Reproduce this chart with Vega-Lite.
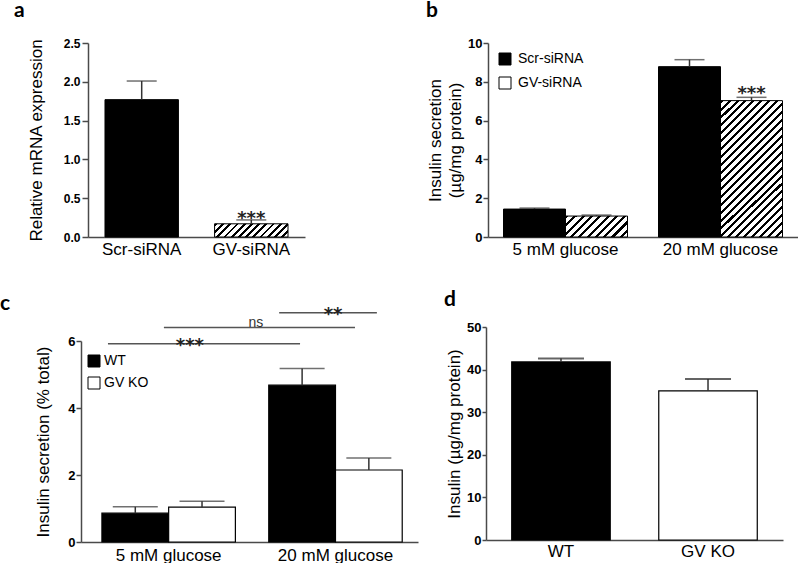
{
"$schema": "https://vega.github.io/schema/vega-lite/v6.json",
"background": "white",
"padding": {"left": 0, "top": 0, "right": 0, "bottom": 0},
"config": {
  "view": {"stroke": null},
  "font": "Liberation Sans",
  "axis": {"domainColor": "#4a4a4a", "domainWidth": 1.5, "tickColor": "#4a4a4a", "tickWidth": 1.5, "labelColor": "black", "titleColor": "black", "grid": false, "titleFont": "Liberation Sans", "titleFontSize": 17, "titleFontWeight": "normal", "labelFont": "Liberation Sans", "labelOverlap": false},
  "axisY": {"labelFontWeight": "bold", "labelFontSize": 13, "tickSize": 5, "labelPadding": 1, "labelOverlap": false},
  "axisX": {"ticks": false, "labelFontSize": 17, "labelPadding": 4, "labelAngle": 0},
  "title": {"font": "Lato", "fontSize": 21, "fontWeight": "bold", "color": "black", "anchor": "start", "frame": "group"},
  "legend": {"labelFont": "Liberation Sans", "labelFontSize": 14, "labelColor": "black"}
},
"resolve": {"scale": {"fill": "independent", "xOffset": "independent"}, "legend": {"fill": "independent"}},
"hconcat": [
 {"vconcat": [
  {
   "width": 224, "height": 194,
   "title": {"text": "a", "dx": -67, "dy": -12},
   "data": {"values": [
     {"group": "Scr-siRNA", "value": 1.77, "upper": 2.01, "sig": ""},
     {"group": "GV-siRNA", "value": 0.17, "upper": 0.22, "sig": "***"}
   ]},
   "encoding": {
     "x": {"field": "group", "type": "nominal", "sort": null, "title": null,
           "scale": {"range": [7, 224], "paddingInner": 0.33, "paddingOuter": 0.155}}
   },
   "layer": [
     {"mark": {"type": "bar", "stroke": "black", "strokeWidth": 1},
      "encoding": {
        "y": {"field": "value", "type": "quantitative", "title": "Relative mRNA expression", "scale": {"domain": [0, 2.5], "nice": false},
              "axis": {"values": [0, 0.5, 1, 1.5, 2, 2.5], "tickCount": 6, "format": ".1f", "offset": -7, "labelFont": "Liberation Sans Narrow, Liberation Sans", "labelFontSize": 12, "tickSize": 6, "labelPadding": 2, "titlePadding": 18, "labelOverlap": false}},
        "fill": {"condition": {"test": "datum.group === 'GV-siRNA'", "value": {"gradient": "linear", "x1": 0, "y1": 0, "x2": 1.1427, "y2": 0.2052, "stops": [
{"offset":0,"color":"#000"},{"offset":0.0317,"color":"#000"},{"offset":0.0317,"color":"#fff"},{"offset":0.0833,"color":"#fff"},
{"offset":0.0833,"color":"#000"},{"offset":0.115,"color":"#000"},{"offset":0.115,"color":"#fff"},{"offset":0.1667,"color":"#fff"},
{"offset":0.1667,"color":"#000"},{"offset":0.1983,"color":"#000"},{"offset":0.1983,"color":"#fff"},{"offset":0.25,"color":"#fff"},
{"offset":0.25,"color":"#000"},{"offset":0.2817,"color":"#000"},{"offset":0.2817,"color":"#fff"},{"offset":0.3333,"color":"#fff"},
{"offset":0.3333,"color":"#000"},{"offset":0.365,"color":"#000"},{"offset":0.365,"color":"#fff"},{"offset":0.4167,"color":"#fff"},
{"offset":0.4167,"color":"#000"},{"offset":0.4483,"color":"#000"},{"offset":0.4483,"color":"#fff"},{"offset":0.5,"color":"#fff"},
{"offset":0.5,"color":"#000"},{"offset":0.5317,"color":"#000"},{"offset":0.5317,"color":"#fff"},{"offset":0.5833,"color":"#fff"},
{"offset":0.5833,"color":"#000"},{"offset":0.615,"color":"#000"},{"offset":0.615,"color":"#fff"},{"offset":0.6667,"color":"#fff"},
{"offset":0.6667,"color":"#000"},{"offset":0.6983,"color":"#000"},{"offset":0.6983,"color":"#fff"},{"offset":0.75,"color":"#fff"},
{"offset":0.75,"color":"#000"},{"offset":0.7817,"color":"#000"},{"offset":0.7817,"color":"#fff"},{"offset":0.8333,"color":"#fff"},
{"offset":0.8333,"color":"#000"},{"offset":0.865,"color":"#000"},{"offset":0.865,"color":"#fff"},{"offset":0.9167,"color":"#fff"},
{"offset":0.9167,"color":"#000"},{"offset":0.9483,"color":"#000"},{"offset":0.9483,"color":"#fff"},{"offset":1,"color":"#fff"}]}}, "value": "black"}
      }},
     {"mark": {"type": "rule", "color": "#333", "strokeWidth": 1.5},
      "encoding": {"y": {"field": "value", "type": "quantitative", "title": "Relative mRNA expression",
              "axis": {"values": [0, 0.5, 1, 1.5, 2, 2.5], "tickCount": 6, "format": ".1f", "offset": -7, "labelFont": "Liberation Sans Narrow, Liberation Sans", "labelFontSize": 12, "tickSize": 6, "labelPadding": 2, "titlePadding": 18, "labelOverlap": false}},
        "y2": {"field": "upper"}}},
     {"mark": {"type": "tick", "color": "#333", "thickness": 1.5, "size": 30},
      "encoding": {"y": {"field": "upper", "type": "quantitative", "title": "Relative mRNA expression",
              "axis": {"values": [0, 0.5, 1, 1.5, 2, 2.5], "tickCount": 6, "format": ".1f", "offset": -7, "labelFont": "Liberation Sans Narrow, Liberation Sans", "labelFontSize": 12, "tickSize": 6, "labelPadding": 2, "titlePadding": 18, "labelOverlap": false}}}},
     {"mark": {"type": "text", "font": "DejaVu Sans", "fontWeight": "bold", "fontSize": 18, "dy": 4, "baseline": "alphabetic", "color": "#222"},
      "encoding": {"y": {"field": "upper", "type": "quantitative", "title": "Relative mRNA expression",
              "axis": {"values": [0, 0.5, 1, 1.5, 2, 2.5], "tickCount": 6, "format": ".1f", "offset": -7, "labelFont": "Liberation Sans Narrow, Liberation Sans", "labelFontSize": 12, "tickSize": 6, "labelPadding": 2, "titlePadding": 18, "labelOverlap": false}},
        "text": {"field": "sig"}}}
   ]
  },
  {
   "width": 337, "height": 201,
   "title": {"text": "c", "dx": -81, "dy": 12},
   "layer": [
    {
     "data": {"values": [
       {"glucose": "5 mM glucose", "genotype": "WT", "value": 0.86, "upper": 1.05},
       {"glucose": "5 mM glucose", "genotype": "GV KO", "value": 1.04, "upper": 1.22},
       {"glucose": "20 mM glucose", "genotype": "WT", "value": 4.68, "upper": 5.18},
       {"glucose": "20 mM glucose", "genotype": "GV KO", "value": 2.15, "upper": 2.51}
     ]},
     "encoding": {
       "x": {"field": "glucose", "type": "nominal", "sort": null, "title": null,
             "scale": {"paddingInner": 0.2, "paddingOuter": 0.11, "align": 0.57}, "axis": {"labelPadding": 5}},
       "xOffset": {"field": "genotype", "type": "nominal", "sort": ["WT", "GV KO"]}
     },
     "layer": [
       {"mark": {"type": "bar", "stroke": "black", "strokeWidth": 1.2},
        "encoding": {
          "y": {"field": "value", "type": "quantitative", "title": "Insulin secretion (% total)", "scale": {"domain": [0, 6], "nice": false},
                "axis": {"values": [0, 2, 4, 6], "titlePadding": 15, "labelOverlap": false}},
          "fill": {"field": "genotype", "type": "nominal", "sort": ["WT", "GV KO"],
                   "scale": {"domain": ["WT", "GV KO"], "range": ["black", "white"]},
                   "legend": {"title": null, "orient": "none", "legendX": 6, "legendY": 13, "symbolType": "square", "symbolSize": 144, "symbolStrokeColor": "black", "symbolStrokeWidth": 1, "labelOffset": 3, "rowPadding": 6,
                              "encode": {"symbols": {"update": {"stroke": {"value": "black"}, "strokeWidth": {"value": 1}}}}}}
        }},
       {"mark": {"type": "rule", "color": "#333", "strokeWidth": 1.5},
        "encoding": {"y": {"field": "value", "type": "quantitative", "title": "Insulin secretion (% total)", "axis": {"values": [0, 2, 4, 6], "titlePadding": 15, "labelOverlap": false}}, "y2": {"field": "upper"}}},
       {"mark": {"type": "tick", "color": "#333", "thickness": 1.5, "size": 45},
        "encoding": {"y": {"field": "upper", "type": "quantitative", "title": "Insulin secretion (% total)", "axis": {"values": [0, 2, 4, 6], "titlePadding": 15, "labelOverlap": false}}}}
     ]
    },
    {
     "data": {"values": [
       {"label": "***", "x1": 0.080, "x2": 0.650, "lx": 0.323, "value": 5.92},
       {"label": "ns", "x1": 0.246, "x2": 0.813, "lx": 0.519, "value": 6.40},
       {"label": "**", "x1": 0.588, "x2": 0.878, "lx": 0.748, "value": 6.84}
     ]},
     "layer": [
       {"mark": {"type": "rule", "color": "#555", "strokeWidth": 1.5},
        "encoding": {
          "x": {"field": "x1", "type": "quantitative", "scale": {"domain": [0, 1], "nice": false}, "axis": null},
          "x2": {"field": "x2"},
          "y": {"field": "value", "type": "quantitative", "title": "Insulin secretion (% total)", "axis": {"values": [0, 2, 4, 6], "titlePadding": 15, "labelOverlap": false}}}},
       {"transform": [{"filter": "datum.label !== 'ns'"}],
        "mark": {"type": "text", "font": "DejaVu Sans", "fontWeight": "bold", "fontSize": 18, "dy": 7, "baseline": "alphabetic", "color": "#222"},
        "encoding": {
          "x": {"field": "lx", "type": "quantitative", "scale": {"domain": [0, 1], "nice": false}, "axis": null},
          "y": {"field": "value", "type": "quantitative", "title": "Insulin secretion (% total)", "axis": {"values": [0, 2, 4, 6], "titlePadding": 15, "labelOverlap": false}},
          "text": {"field": "label"}}},
       {"transform": [{"filter": "datum.label === 'ns'"}],
        "mark": {"type": "text", "fontSize": 14, "dy": -1, "baseline": "alphabetic", "color": "#333"},
        "encoding": {
          "x": {"field": "lx", "type": "quantitative", "scale": {"domain": [0, 1], "nice": false}, "axis": null},
          "y": {"field": "value", "type": "quantitative", "title": "Insulin secretion (% total)", "axis": {"values": [0, 2, 4, 6], "titlePadding": 15, "labelOverlap": false}},
          "text": {"field": "label"}}}
     ]
    }
   ],
   "resolve": {"scale": {"x": "independent"}}
  }
 ], "bounds": "flush", "spacing": 104,
 "resolve": {"scale": {"fill": "independent", "xOffset": "independent"}, "legend": {"fill": "independent"}}},
 {"vconcat": [
  {
   "width": 312, "height": 194,
   "title": {"text": "b", "dx": -60, "dy": -12},
   "data": {"values": [
     {"glucose": "5 mM glucose", "siRNA": "Scr-siRNA", "value": 1.44, "upper": 1.49, "sig": ""},
     {"glucose": "5 mM glucose", "siRNA": "GV-siRNA", "value": 1.08, "upper": 1.13, "sig": ""},
     {"glucose": "20 mM glucose", "siRNA": "Scr-siRNA", "value": 8.78, "upper": 9.14, "sig": ""},
     {"glucose": "20 mM glucose", "siRNA": "GV-siRNA", "value": 7.03, "upper": 7.2, "sig": "***"}
   ]},
   "encoding": {
     "x": {"field": "glucose", "type": "nominal", "sort": null, "title": null,
           "scale": {"range": [2, 312], "paddingInner": 0.2, "paddingOuter": 0.1}},
     "xOffset": {"field": "siRNA", "type": "nominal", "sort": ["Scr-siRNA", "GV-siRNA"]}
   },
   "layer": [
     {"mark": {"type": "bar", "stroke": "black", "strokeWidth": 1},
      "encoding": {
        "y": {"field": "value", "type": "quantitative", "title": ["Insulin secretion", "(µg/mg protein)"], "scale": {"domain": [0, 10], "nice": false},
              "axis": {"values": [0, 2, 4, 6, 8, 10], "tickCount": 6, "offset": -2, "titlePadding": 3, "titleLineHeight": 20, "labelOverlap": false}},
        "fill": {"field": "siRNA", "type": "nominal", "sort": ["Scr-siRNA", "GV-siRNA"],
                 "scale": {"domain": ["Scr-siRNA", "GV-siRNA"], "range": ["black", "white"]},
                 "condition": [
                   {"test": "datum.siRNA === 'GV-siRNA' && datum.glucose === '5 mM glucose'", "value": {"gradient": "linear", "x1": 0, "y1": 0, "x2": 1.201, "y2": 0.4068, "stops": [
{"offset":0,"color":"#000"},{"offset":0.038,"color":"#000"},{"offset":0.038,"color":"#fff"},{"offset":0.1,"color":"#fff"},
{"offset":0.1,"color":"#000"},{"offset":0.138,"color":"#000"},{"offset":0.138,"color":"#fff"},{"offset":0.2,"color":"#fff"},
{"offset":0.2,"color":"#000"},{"offset":0.238,"color":"#000"},{"offset":0.238,"color":"#fff"},{"offset":0.3,"color":"#fff"},
{"offset":0.3,"color":"#000"},{"offset":0.338,"color":"#000"},{"offset":0.338,"color":"#fff"},{"offset":0.4,"color":"#fff"},
{"offset":0.4,"color":"#000"},{"offset":0.438,"color":"#000"},{"offset":0.438,"color":"#fff"},{"offset":0.5,"color":"#fff"},
{"offset":0.5,"color":"#000"},{"offset":0.538,"color":"#000"},{"offset":0.538,"color":"#fff"},{"offset":0.6,"color":"#fff"},
{"offset":0.6,"color":"#000"},{"offset":0.638,"color":"#000"},{"offset":0.638,"color":"#fff"},{"offset":0.7,"color":"#fff"},
{"offset":0.7,"color":"#000"},{"offset":0.738,"color":"#000"},{"offset":0.738,"color":"#fff"},{"offset":0.8,"color":"#fff"},
{"offset":0.8,"color":"#000"},{"offset":0.838,"color":"#000"},{"offset":0.838,"color":"#fff"},{"offset":0.9,"color":"#fff"},
{"offset":0.9,"color":"#000"},{"offset":0.938,"color":"#000"},{"offset":0.938,"color":"#fff"},{"offset":1,"color":"#fff"}]}},
                   {"test": "datum.siRNA === 'GV-siRNA' && datum.glucose === '20 mM glucose'", "value": {"gradient": "linear", "x1": 0, "y1": 0, "x2": 0.5464, "y2": 1.2056, "stops": [
{"offset":0,"color":"#000"},{"offset":0.0152,"color":"#000"},{"offset":0.0152,"color":"#fff"},{"offset":0.04,"color":"#fff"},
{"offset":0.04,"color":"#000"},{"offset":0.0552,"color":"#000"},{"offset":0.0552,"color":"#fff"},{"offset":0.08,"color":"#fff"},
{"offset":0.08,"color":"#000"},{"offset":0.0952,"color":"#000"},{"offset":0.0952,"color":"#fff"},{"offset":0.12,"color":"#fff"},
{"offset":0.12,"color":"#000"},{"offset":0.1352,"color":"#000"},{"offset":0.1352,"color":"#fff"},{"offset":0.16,"color":"#fff"},
{"offset":0.16,"color":"#000"},{"offset":0.1752,"color":"#000"},{"offset":0.1752,"color":"#fff"},{"offset":0.2,"color":"#fff"},
{"offset":0.2,"color":"#000"},{"offset":0.2152,"color":"#000"},{"offset":0.2152,"color":"#fff"},{"offset":0.24,"color":"#fff"},
{"offset":0.24,"color":"#000"},{"offset":0.2552,"color":"#000"},{"offset":0.2552,"color":"#fff"},{"offset":0.28,"color":"#fff"},
{"offset":0.28,"color":"#000"},{"offset":0.2952,"color":"#000"},{"offset":0.2952,"color":"#fff"},{"offset":0.32,"color":"#fff"},
{"offset":0.32,"color":"#000"},{"offset":0.3352,"color":"#000"},{"offset":0.3352,"color":"#fff"},{"offset":0.36,"color":"#fff"},
{"offset":0.36,"color":"#000"},{"offset":0.3752,"color":"#000"},{"offset":0.3752,"color":"#fff"},{"offset":0.4,"color":"#fff"},
{"offset":0.4,"color":"#000"},{"offset":0.4152,"color":"#000"},{"offset":0.4152,"color":"#fff"},{"offset":0.44,"color":"#fff"},
{"offset":0.44,"color":"#000"},{"offset":0.4552,"color":"#000"},{"offset":0.4552,"color":"#fff"},{"offset":0.48,"color":"#fff"},
{"offset":0.48,"color":"#000"},{"offset":0.4952,"color":"#000"},{"offset":0.4952,"color":"#fff"},{"offset":0.52,"color":"#fff"},
{"offset":0.52,"color":"#000"},{"offset":0.5352,"color":"#000"},{"offset":0.5352,"color":"#fff"},{"offset":0.56,"color":"#fff"},
{"offset":0.56,"color":"#000"},{"offset":0.5752,"color":"#000"},{"offset":0.5752,"color":"#fff"},{"offset":0.6,"color":"#fff"},
{"offset":0.6,"color":"#000"},{"offset":0.6152,"color":"#000"},{"offset":0.6152,"color":"#fff"},{"offset":0.64,"color":"#fff"},
{"offset":0.64,"color":"#000"},{"offset":0.6552,"color":"#000"},{"offset":0.6552,"color":"#fff"},{"offset":0.68,"color":"#fff"},
{"offset":0.68,"color":"#000"},{"offset":0.6952,"color":"#000"},{"offset":0.6952,"color":"#fff"},{"offset":0.72,"color":"#fff"},
{"offset":0.72,"color":"#000"},{"offset":0.7352,"color":"#000"},{"offset":0.7352,"color":"#fff"},{"offset":0.76,"color":"#fff"},
{"offset":0.76,"color":"#000"},{"offset":0.7752,"color":"#000"},{"offset":0.7752,"color":"#fff"},{"offset":0.8,"color":"#fff"},
{"offset":0.8,"color":"#000"},{"offset":0.8152,"color":"#000"},{"offset":0.8152,"color":"#fff"},{"offset":0.84,"color":"#fff"},
{"offset":0.84,"color":"#000"},{"offset":0.8552,"color":"#000"},{"offset":0.8552,"color":"#fff"},{"offset":0.88,"color":"#fff"},
{"offset":0.88,"color":"#000"},{"offset":0.8952,"color":"#000"},{"offset":0.8952,"color":"#fff"},{"offset":0.92,"color":"#fff"},
{"offset":0.92,"color":"#000"},{"offset":0.9352,"color":"#000"},{"offset":0.9352,"color":"#fff"},{"offset":0.96,"color":"#fff"},
{"offset":0.96,"color":"#000"},{"offset":0.9752,"color":"#000"},{"offset":0.9752,"color":"#fff"},{"offset":1,"color":"#fff"}]}}
                 ],
                 "legend": {"title": null, "orient": "none", "legendX": 12, "legendY": 9, "symbolType": "square", "symbolSize": 144, "symbolStrokeColor": "black", "symbolStrokeWidth": 1, "labelOffset": 6, "rowPadding": 8,
                            "encode": {"symbols": {"update": {"stroke": {"value": "black"}, "strokeWidth": {"value": 1}, "fill": [
                              {"test": "datum.value === 'GV-siRNA'", "value": {"gradient": "linear", "x1": 0, "y1": 0, "x2": 1, "y2": 1, "stops": [
{"offset":0,"color":"#fff"},{"offset":0.104,"color":"#fff"},{"offset":0.104,"color":"#000"},{"offset":0.229,"color":"#000"},{"offset":0.229,"color":"#fff"},
{"offset":0.437,"color":"#fff"},{"offset":0.437,"color":"#000"},{"offset":0.563,"color":"#000"},{"offset":0.563,"color":"#fff"},
{"offset":0.771,"color":"#fff"},{"offset":0.771,"color":"#000"},{"offset":0.896,"color":"#000"},{"offset":0.896,"color":"#fff"},{"offset":1,"color":"#fff"}]}},
                              {"value": "black"}]}}}}}
      }},
     {"mark": {"type": "rule", "color": "#333", "strokeWidth": 1.5},
      "encoding": {"y": {"field": "value", "type": "quantitative", "title": ["Insulin secretion", "(µg/mg protein)"],
              "axis": {"values": [0, 2, 4, 6, 8, 10], "tickCount": 6, "offset": -2, "titlePadding": 3, "titleLineHeight": 20, "labelOverlap": false}},
        "y2": {"field": "upper"}}},
     {"mark": {"type": "tick", "color": "#333", "thickness": 1.5, "size": 30},
      "encoding": {"y": {"field": "upper", "type": "quantitative", "title": ["Insulin secretion", "(µg/mg protein)"],
              "axis": {"values": [0, 2, 4, 6, 8, 10], "tickCount": 6, "offset": -2, "titlePadding": 3, "titleLineHeight": 20, "labelOverlap": false}}}},
     {"mark": {"type": "text", "font": "DejaVu Sans", "fontWeight": "bold", "fontSize": 18, "dy": 2, "baseline": "alphabetic", "color": "#222"},
      "encoding": {"y": {"field": "upper", "type": "quantitative", "title": ["Insulin secretion", "(µg/mg protein)"],
              "axis": {"values": [0, 2, 4, 6, 8, 10], "tickCount": 6, "offset": -2, "titlePadding": 3, "titleLineHeight": 20, "labelOverlap": false}},
        "text": {"field": "sig"}}}
   ]
  },
  {
   "width": 297, "height": 213,
   "title": {"text": "d", "dx": -42, "dy": -7},
   "data": {"values": [
     {"genotype": "WT", "value": 41.8, "upper": 42.6},
     {"genotype": "GV KO", "value": 35.0, "upper": 37.8}
   ]},
   "encoding": {
     "x": {"field": "genotype", "type": "nominal", "sort": null, "title": null,
           "scale": {"paddingInner": 0.33, "paddingOuter": 0.175}, "axis": {"labelPadding": 3}}
   },
   "layer": [
     {"mark": {"type": "bar", "stroke": "black", "strokeWidth": 1.2},
      "encoding": {
        "y": {"field": "value", "type": "quantitative", "title": "Insulin (µg/mg protein)", "scale": {"domain": [0, 50], "nice": false},
              "axis": {"values": [0, 10, 20, 30, 40, 50], "tickSize": 4, "titlePadding": 3, "labelOverlap": false}},
        "fill": {"field": "genotype", "type": "nominal", "scale": {"domain": ["WT", "GV KO"], "range": ["black", "white"]}, "legend": null}
      }},
     {"mark": {"type": "rule", "color": "#333", "strokeWidth": 1.5},
      "encoding": {"y": {"field": "value", "type": "quantitative", "title": "Insulin (µg/mg protein)", "axis": {"values": [0, 10, 20, 30, 40, 50], "tickSize": 4, "titlePadding": 3, "labelOverlap": false}}, "y2": {"field": "upper"}}},
     {"mark": {"type": "tick", "color": "#222", "thickness": 2, "size": 46},
      "encoding": {"y": {"field": "upper", "type": "quantitative", "title": "Insulin (µg/mg protein)", "axis": {"values": [0, 10, 20, 30, 40, 50], "tickSize": 4, "titlePadding": 3, "labelOverlap": false}}}}
   ]
  }
 ], "bounds": "flush", "spacing": 90,
 "resolve": {"scale": {"fill": "independent", "xOffset": "independent"}, "legend": {"fill": "independent"}}}
],
"spacing": 8
}
